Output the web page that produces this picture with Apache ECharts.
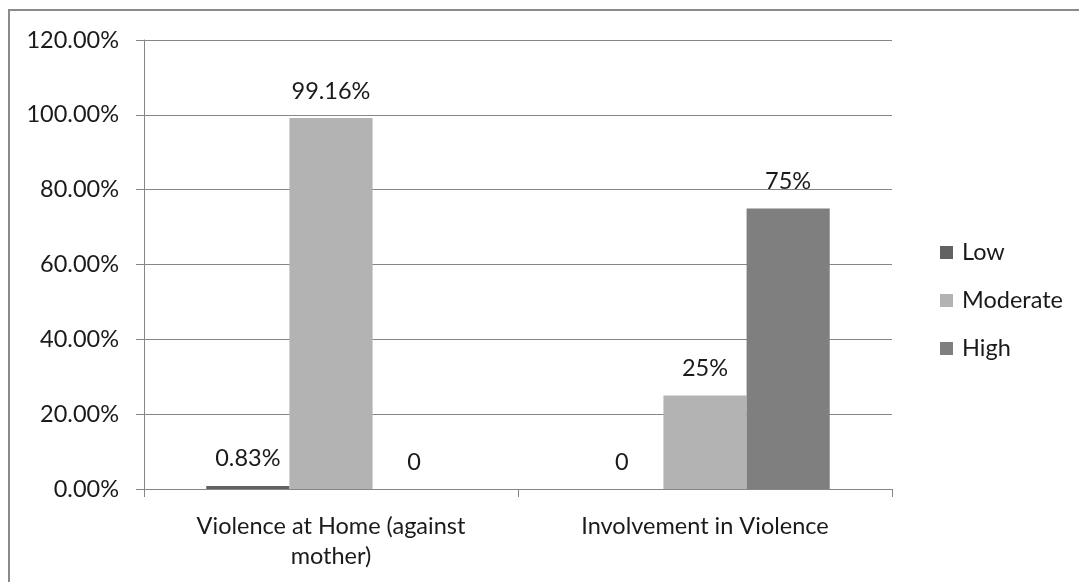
<!DOCTYPE html>
<html>
<head>
<meta charset="utf-8">
<script src="https://cdn.jsdelivr.net/npm/echarts@6/dist/echarts.min.js"></script>
<style>
html,body{margin:0;padding:0;background:#fff;}
#chart{width:1079px;height:582px;}
</style>
</head>
<body>
<div id="chart"></div>
<script>
const categories = ["Violence at Home (against\nmother)", "Involvement in Violence"];
const seriesNames = ["Low", "Moderate", "High"];
const lowValues = [0.83, 0];
const moderateValues = [99.16, 25];
const highValues = [0, 75];
const lowLabels = ["0.83%", "0"];
const moderateLabels = ["99.16%", "25%"];
const highLabels = ["0", "75%"];
const yTicks = [0, 20, 40, 60, 80, 100, 120];

const FONT = "Lato";
const TEXT = "#1a1a1a";
const colors = ["#626262", "#b3b3b3", "#7f7f7f"];

function makeSeries(name, values, labels, color) {
  return {
    name: name,
    type: "bar",
    data: values,
    barGap: "0%",
    barCategoryGap: "33.3%",
    itemStyle: { color: color },
    label: {
      show: true,
      position: "top",
      distance: 15,
      fontFamily: FONT,
      fontSize: 23.5,
      color: TEXT,
      formatter: function (p) { return labels[p.dataIndex]; }
    },
    emphasis: { disabled: true },
    animation: false
  };
}

const chart = echarts.init(document.getElementById("chart"), null, { renderer: "canvas" });
chart.setOption({
  backgroundColor: "#fff",
  animation: false,
  graphic: [{
    type: "rect",
    shape: { x: 9, y: 10, width: 2000, height: 2000 },
    style: { fill: "none", stroke: "#8a8a8a", lineWidth: 2 },
    silent: true
  }],
  grid: { left: 144, right: 187, top: 40, bottom: 93, containLabel: false },
  legend: {
    orient: "vertical",
    left: 935,
    top: 235,
    itemWidth: 13,
    itemHeight: 13,
    itemGap: 23,
    icon: "rect",
    data: seriesNames,
    textStyle: { fontFamily: FONT, fontSize: 23.5, color: TEXT, lineHeight: 25, padding: [0, 0, 0, 4] }
  },
  xAxis: {
    type: "category",
    data: categories,
    axisLine: { lineStyle: { color: "#868686", width: 1 } },
    axisTick: { show: true, length: 8, alignWithLabel: false, lineStyle: { color: "#868686" } },
    axisLabel: { fontFamily: FONT, fontSize: 23.5, color: TEXT, margin: 22, lineHeight: 30, interval: 0 }
  },
  yAxis: {
    type: "value",
    min: yTicks[0],
    max: yTicks[yTicks.length - 1],
    interval: 20,
    axisLine: { show: true, lineStyle: { color: "#868686", width: 1 } },
    axisTick: { show: true, length: 8, lineStyle: { color: "#868686" } },
    splitLine: { show: true, lineStyle: { color: "#868686", width: 1 } },
    axisLabel: {
      fontFamily: FONT, fontSize: 23.5, color: TEXT, margin: 25,
      formatter: function (v) { return v.toFixed(2) + "%"; }
    }
  },
  series: [
    makeSeries(seriesNames[0], lowValues, lowLabels, colors[0]),
    makeSeries(seriesNames[1], moderateValues, moderateLabels, colors[1]),
    makeSeries(seriesNames[2], highValues, highLabels, colors[2])
  ]
});
</script>
</body>
</html>
